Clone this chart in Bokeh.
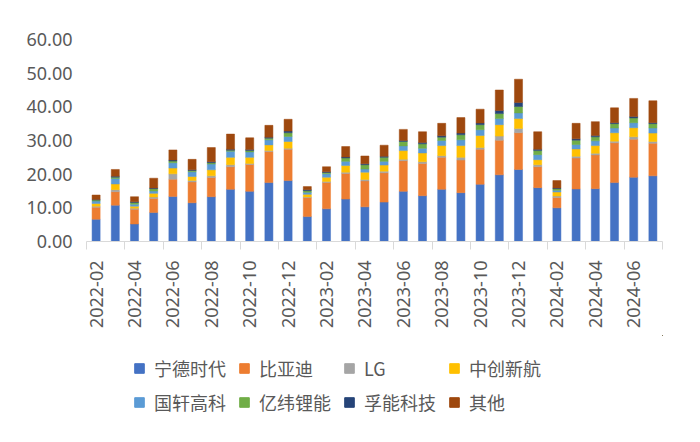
import math
from bokeh.plotting import figure
from bokeh.layouts import column
from bokeh.models import (FixedTicker, Range1d, Legend, LegendItem,
                          NumeralTickFormatter, ColumnDataSource)
from bokeh.embed import file_html
from bokeh.resources import INLINE

months = ["2022-02", "2022-03", "2022-04", "2022-05", "2022-06", "2022-07",
          "2022-08", "2022-09", "2022-10", "2022-11", "2022-12", "2023-01",
          "2023-02", "2023-03", "2023-04", "2023-05", "2023-06", "2023-07",
          "2023-08", "2023-09", "2023-10", "2023-11", "2023-12", "2024-01",
          "2024-02", "2024-03", "2024-04", "2024-05", "2024-06", "2024-07"]

series_names = ["宁德时代", "比亚迪", "LG", "中创新航", "国轩高科", "亿纬锂能", "孚能科技", "其他"]

catl = [6.6, 10.8, 5.2, 8.6, 13.4, 11.5, 13.3, 15.5, 14.9, 17.5, 18.1, 7.4, 9.7, 12.6, 10.3,
        11.7, 14.9, 13.6, 15.5, 14.5, 17.0, 19.8, 21.4, 16.0, 10.0, 15.6, 15.7, 17.5, 19.1, 19.5]
byd = [3.6, 4.0, 4.4, 4.2, 5.1, 6.2, 5.7, 6.7, 8.0, 9.2, 9.3, 5.6, 7.8, 7.6, 7.7,
       8.7, 9.1, 9.6, 9.5, 9.7, 10.4, 10.3, 10.9, 6.2, 3.1, 9.2, 10.0, 11.8, 11.3, 9.7]
lg = [0.3, 0.6, 0.3, 0.4, 1.6, 0.4, 0.5, 0.6, 0.3, 0.3, 0.3, 0.2, 0.3, 0.4, 0.4,
      0.5, 0.4, 0.5, 0.5, 0.8, 0.5, 1.2, 1.3, 0.6, 0.4, 0.5, 0.5, 0.5, 0.7, 0.5]
calb = [0.8, 1.7, 0.6, 1.1, 1.7, 1.2, 1.8, 2.2, 1.8, 1.7, 2.0, 0.8, 1.3, 2.0, 2.2,
        1.8, 2.6, 2.6, 3.0, 3.5, 3.6, 3.4, 2.9, 1.5, 1.2, 2.2, 2.3, 2.5, 2.7, 2.5]
gotion = [0.7, 1.6, 0.6, 0.7, 1.6, 1.4, 1.7, 1.8, 1.6, 1.5, 1.5, 0.6, 1.0, 1.2, 0.9,
          1.1, 1.4, 1.4, 1.5, 1.7, 1.7, 1.8, 1.7, 1.5, 0.5, 1.3, 1.4, 1.4, 1.5, 1.5]
eve = [0.3, 0.4, 0.5, 0.7, 0.5, 0.4, 0.4, 0.3, 0.4, 0.5, 1.1, 0.5, 0.4, 1.0, 1.3,
       1.2, 1.3, 1.3, 1.0, 1.5, 1.5, 1.5, 1.9, 1.2, 0.5, 1.3, 1.2, 1.3, 1.4, 1.3]
farasis = [0.2, 0.3, 0.2, 0.2, 0.3, 0.2, 0.3, 0.3, 0.3, 0.3, 0.5, 0.3, 0.2, 0.3, 0.3,
           0.3, 0.3, 0.4, 0.4, 0.5, 0.5, 0.9, 1.2, 0.4, 0.2, 0.4, 0.4, 0.3, 0.4, 0.3]
other = [1.3, 2.0, 1.5, 2.9, 3.0, 3.1, 4.2, 4.5, 3.5, 3.5, 3.5, 0.9, 1.5, 3.1, 2.3,
         3.3, 3.3, 3.2, 3.7, 4.6, 4.1, 6.1, 6.9, 5.2, 2.2, 4.6, 4.1, 4.4, 5.4, 6.5]

y_ticks = [0, 10, 20, 30, 40, 50, 60]

colors = ["#4472C4", "#ED7D31", "#A5A5A5", "#FFC000", "#5B9BD5", "#70AD47", "#264478", "#9E480E"]
keys = ["s%d" % i for i in range(8)]

xs = list(range(len(months)))
source = ColumnDataSource(dict(x=xs, s0=catl, s1=byd, s2=lg, s3=calb,
                               s4=gotion, s5=eve, s6=farasis, s7=other))

p = figure(width=684, height=335, output_backend="svg", toolbar_location=None,
           x_range=Range1d(-0.5, len(months) - 0.5), y_range=Range1d(0, 60),
           min_border_left=86, min_border_right=22, min_border_top=39,
           min_border_bottom=94)
p.xgrid.visible = False
p.ygrid.visible = False
p.outline_line_color = None
p.background_fill_color = "white"
p.border_fill_color = "white"

p.vbar_stack(keys, x="x", width=0.42, source=source,
             fill_color=colors, line_color=colors, line_width=0.5)

label_color = "#595959"
num_font = "Noto Sans"

xa = p.xaxis[0]
xa.ticker = FixedTicker(ticks=xs[::2],
                        minor_ticks=[i - 0.5 for i in range(0, len(months) + 1, 2)])
xa.major_label_overrides = {i: months[i] for i in xs[::2]}
xa.major_label_orientation = math.pi / 2
xa.major_tick_out = 0
xa.major_tick_in = 0
xa.minor_tick_out = 8
xa.minor_tick_in = 0
xa.minor_tick_line_color = "#D9D9D9"
xa.axis_line_color = "#D9D9D9"
xa.major_label_standoff = 11
xa.major_label_text_font = num_font
xa.major_label_text_font_size = "18px"
xa.major_label_text_color = label_color

ya = p.yaxis[0]
ya.ticker = FixedTicker(ticks=y_ticks)
ya.formatter = NumeralTickFormatter(format="0.00")
ya.axis_line_color = None
ya.major_tick_out = 0
ya.major_tick_in = 0
ya.major_tick_line_color = None
ya.minor_tick_line_color = None
ya.major_label_standoff = 14
ya.major_label_text_font = num_font
ya.major_label_text_font_size = "18px"
ya.major_label_text_color = label_color

# legend figure below the chart (its swatch glyphs sit outside its visible range)
p2 = figure(width=684, height=91, output_backend="svg", toolbar_location=None,
            x_range=Range1d(0, 1), y_range=Range1d(0, 1),
            x_axis_location=None, y_axis_location=None,
            min_border=0, min_border_left=0, min_border_right=0,
            min_border_top=0, min_border_bottom=0)
p2.grid.visible = False
p2.outline_line_color = None
p2.background_fill_color = "white"
p2.border_fill_color = "white"

items = []
for name, c in zip(series_names, colors):
    r = p2.vbar(x=[10], top=[10], bottom=[9], width=0.5, fill_color=c, line_color=c)
    items.append(LegendItem(label=name, renderers=[r]))

legend = Legend(items=items, orientation="horizontal", ncols=4,
                location=(47, 11), padding=0, margin=0, spacing=8,
                glyph_width=12, glyph_height=12, label_standoff=9,
                label_width=76, label_height=24,
                label_text_font="Noto Sans CJK SC", label_text_font_size="18px",
                label_text_color=label_color,
                border_line_color=None, background_fill_alpha=0)
p2.add_layout(legend)

layout = column(p, p2, spacing=0)
open("out.html", "w").write(file_html(layout, INLINE))
